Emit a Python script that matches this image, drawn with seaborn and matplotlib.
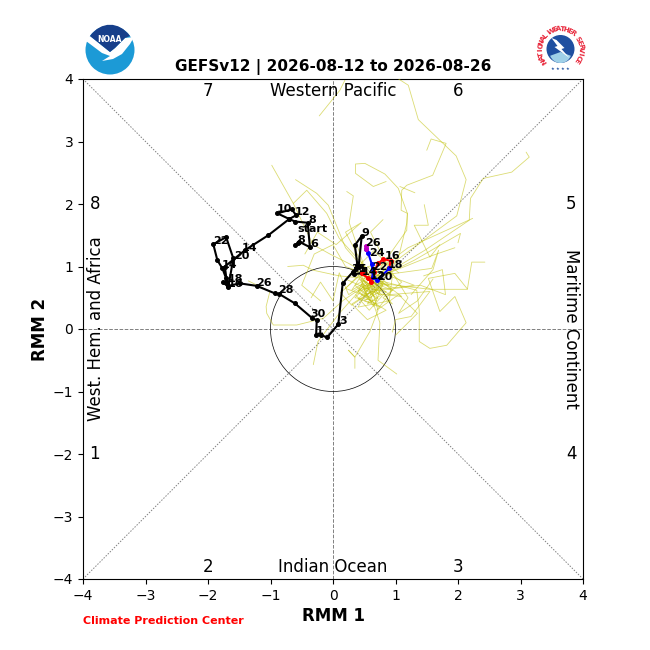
import numpy as np
import pandas as pd
import matplotlib
matplotlib.use("Agg")
import matplotlib.pyplot as plt
from matplotlib.patches import Circle, Polygon, PathPatch, Wedge
from matplotlib.path import Path
import seaborn as sns

# observed RMM path
obs_x = [-0.61, -0.56, -0.55, -0.37, -0.405, -0.61, -0.70, -0.89, -0.66, -0.59, -0.70, -1.035, -1.41, -1.73, -1.70, -1.76, -1.675,
         -1.595, -1.71, -1.915, -1.85, -1.77, -1.71, -1.675, -1.49, -1.22, -0.93, -0.86, -0.61, -0.34, -0.26, -0.27, -0.20, -0.09,
         0.085, 0.155, 0.325, 0.39, 0.35, 0.46, 0.41, 0.33, 0.46]
obs_y = [1.34, 1.37, 1.40, 1.31, 1.70, 1.72, 1.76, 1.85, 1.915, 1.82, 1.76, 1.50, 1.26, 1.00, 0.76, 0.75, 0.67,
         1.13, 1.47, 1.355, 1.10, 0.97, 0.81, 0.69, 0.73, 0.69, 0.57, 0.56, 0.41, 0.18, 0.14, -0.10, -0.10, -0.13,
         0.075, 0.73, 0.92, 1.02, 1.34, 1.49, 1.00, 0.88, 0.89]

# ensemble mean forecast, week 1 red, week 2 blue, then magenta
red_x = [0.46, 0.565, 0.61, 0.656, 0.725, 0.805, 0.92, 0.90]
red_y = [0.89, 0.81, 0.75, 0.92, 1.05, 1.12, 1.09, 0.97]
blue_x = [0.90, 0.71, 0.635, 0.62, 0.565, 0.53]
blue_y = [0.97, 0.78, 0.83, 1.04, 1.21, 1.28]
mag_x = [0.53, 0.52]
mag_y = [1.28, 1.33]

# ensemble members
members = [
    ([0.7, 1.10, 1.98, 2.13, 1.97, 1.365, 1.205, 1.05], [0.85, 1.16, 1.81, 2.39, 2.77, 3.35, 3.90, 4.0]),
    ([0.65, 1.05, 1.18, 1.19, 1.09, 1.10, 1.18, 1.595, 1.81, 1.57, 1.50], [0.8, 1.15, 1.69, 1.85, 1.90, 2.22, 2.30, 2.46, 2.97, 3.04, 2.86]),
    ([0.7, 1.47, 2.18, 2.20, 2.405, 2.86, 3.14, 3.09], [0.8, 1.26, 1.74, 2.09, 2.41, 2.51, 2.75, 2.83]),
    ([0.6, 1.2, 2.235], [0.85, 1.3, 1.77]),
    ([0.65, 1.3, 2.04, 2.0], [0.78, 1.1, 1.53, 1.38]),
    ([1.46, 1.525, 1.30, 1.55, 1.71], [1.99, 1.66, 1.66, 1.15, 1.35]),
    ([0.7, 1.18, 1.19, 1.045, 0.83, 0.51, 0.36, 0.36, 0.645, 0.85], [0.9, 1.58, 1.85, 2.25, 2.48, 2.65, 2.64, 2.49, 2.28, 2.36]),
    ([1.07, 1.31], [2.28, 2.18]),
    ([0.5, 0.5, 0.26, 0.325, 0.22], [0.85, 1.0, 1.70, 2.13, 2.20]),
    ([-0.22, 0.11, 0.19], [3.41, 3.82, 3.98]),
    ([0.6, 0.25, -0.05, -0.32, -0.635, -0.98], [0.85, 1.05, 1.2, 1.35, 2.01, 2.62]),
    ([0.55, 0.2, -0.075, -0.26, -0.60], [0.9, 1.3, 1.98, 2.17, 2.39]),
    ([0.6, 0.1, -0.10, -0.42, -0.635], [0.9, 1.45, 1.85, 2.22, 2.01]),
    ([0.6, 0.165, -0.155, -0.58, -0.955, -1.06, -1.07, -1.01, -1.355], [0.75, 0.46, 0.17, 0.064, 0.064, 0.25, 0.36, 0.60, 0.77]),
    ([0.6, 0.1, -0.315, -0.475, -0.725], [0.8, 0.85, 0.94, 1.02, 1.0]),
    ([0.6, 1.55, 2.15, 2.22, 2.43], [0.75, 0.635, 0.635, 1.07, 1.07]),
    ([0.65, 1.34, 1.38, 1.38, 1.55, 1.82, 2.13, 1.95, 1.71, 1.525, 1.95, 2.15], [0.8, 0.62, 0.30, -0.20, -0.31, -0.26, 0.10, 0.52, 0.28, 0.81, 0.89, 0.64]),
    ([0.7, 1.58, 1.69, 1.6, 1.25], [0.85, 0.97, 1.26, 0.95, 0.55]),
    ([0.6, 0.72, 0.59, 0.35, 0.245], [0.7, 0.3, -0.04, -0.45, -0.34]),
    ([0.55, 0.75, 0.72, 1.02], [0.7, 0.1, -0.50, -0.72]),
    ([0.5, 0.1, -0.24, -0.315], [0.7, 0.25, -0.20, -0.57]),
    ([0.35, 0.35, 0.25], [-0.63, -0.45, -0.34]),
    ([0.6, 1.0, 1.4, 1.8, 1.75, 1.45], [0.8, 0.65, 0.7, 0.55, 0.95, 0.85]),
    ([0.6, 0.95, 1.2, 1.05, 1.35, 1.6], [0.82, 0.9, 0.5, 0.25, 0.45, 0.8]),
    ([0.6, 0.9, 1.55, 1.25, 1.0, 0.95], [0.78, 0.55, 0.6, 0.2, 0.15, -0.05]),
    ([0.6, 0.2, 0.45, 0.05, -0.25, -0.45], [0.8, 1.55, 1.7, 1.35, 1.55, 1.2]),
    ([0.6, 0.2, 0.0, -0.3, -0.5, -0.2], [0.85, 1.0, 1.35, 1.2, 0.7, 0.45]),
    ([0.55, 0.25, 0.1, 0.0, -0.2, -0.35], [0.75, 0.55, 0.9, 0.45, 0.75, 0.5]),
    ([0.6, 0.4, 0.9, 0.95, 0.6, 0.8], [0.7, 0.35, 0.45, 0.85, 1.55, 1.75]),
    ([0.65, 0.45, 0.85, 0.55, 0.3, 0.7], [0.8, 0.55, 0.3, 0.15, 0.4, 0.65]),
    ([0.6, 0.75, 0.5, 0.75, 0.4, 0.55], [0.85, 0.6, 0.45, 0.35, 0.6, 0.72]),
    ([0.6, 0.85, 1.1, 0.8, 0.95, 0.65], [0.8, 0.95, 0.75, 0.5, 0.4, 0.75]),
    ([0.65, 0.35, 0.6, 0.2, 0.5, 0.8, 0.6], [0.85, 0.7, 0.5, 0.65, 0.95, 0.7, 0.55]),
    ([0.6, 0.9, 0.55, 1.0, 0.7, 1.3, 0.9], [0.72, 0.7, 1.0, 1.05, 0.62, 0.7, 0.85]),
    ([0.55, 0.4, 0.8, 0.45, 0.7, 0.35, 0.65], [0.9, 0.6, 0.75, 0.85, 0.45, 0.5, 0.8]),
    ([0.6, 0.3, 0.75, 0.2, 0.65, 1.05], [0.8, 0.95, 0.55, 0.8, 1.25, 0.9]),
    ([0.65, 1.15, 1.6, 1.95], [0.8, 1.0, 1.18, 1.30]),
    ([1.0, 1.35, 1.05, 0.7, 0.95, 0.55], [-0.10, 0.25, 0.55, 0.30, 0.62, 0.7]),
    ([0.6, 0.5, 0.7, 0.45, 0.62, 0.4, 0.6], [0.75, 0.55, 0.62, 0.72, 0.42, 0.48, 0.66]),
    ([0.62, 0.78, 0.55, 0.7, 0.42, 0.66], [0.72, 0.55, 0.4, 0.66, 0.8, 0.52]),
    ([0.6, 0.45, 0.55, 0.8, 0.65, 0.5], [0.7, 0.8, 0.5, 0.72, 0.36, 0.62]),
    ([0.58, 0.72, 0.48, 0.85, 0.58, 0.36], [0.78, 0.48, 0.66, 0.6, 0.3, 0.55]),
    ([0.6, 0.3, 0.48, 0.12, 0.3, 0.62], [0.8, 0.62, 0.9, 0.58, 0.38, 0.6]),
    ([0.6, 0.95, 0.7, 1.1, 0.72, 0.55], [0.76, 0.62, 0.82, 0.52, 0.56, 0.84]),
]

labels = ["start", "6", "8", "8", "10", "12", "14", "20", "14", "22", "18", "16", "26", "28", "30", "1", "3",
          "9", "26", "24", "16", "18", "22", "20", "31", "5", "14", "12"]
label_x = [-0.575, -0.37, -0.575, -0.40, -0.90, -0.61, -1.46, -1.58, -1.78, -1.92, -1.68, -1.68, -1.23, -0.88, -0.37, -0.27, 0.10,
           0.45, 0.51, 0.57, 0.82, 0.88, 0.62, 0.70, 0.29, 0.40, 0.46, 0.59]
label_y = [1.60, 1.36, 1.42, 1.745, 1.92, 1.87, 1.30, 1.17, 1.02, 1.41, 0.80, 0.72, 0.74, 0.62, 0.24, -0.03, 0.13,
           1.54, 1.38, 1.22, 1.17, 1.02, 0.99, 0.83, 0.96, 0.96, 0.91, 0.85]

ticks = [-4, -3, -2, -1, 0, 1, 2, 3, 4]

octants = ["7", "6", "8", "5", "1", "4", "2", "3"]
octant_x = [-2.0, 2.0, -3.81, 3.81, -3.81, 3.81, -2.0, 2.0]
octant_y = [3.8, 3.8, 2.0, 2.0, -2.0, -2.0, -3.8, -3.8]

sns.set_style("ticks")
plt.rcParams["text.color"] = "black"
plt.rcParams["axes.labelcolor"] = "black"
plt.rcParams["xtick.color"] = "black"
plt.rcParams["ytick.color"] = "black"
fig = plt.figure(figsize=(6.5, 6.5), dpi=100)
ax = fig.add_axes([83 / 650, 1 - 579 / 650, 500 / 650, 500 / 650])

for guide in ([-4, 4], [4, -4]):
    sns.lineplot(x=[-4, 4], y=guide, sort=False, estimator=None, color="gray", lw=0.7, ls=(0, (1.5, 1.5)), ax=ax, zorder=1)
sns.lineplot(x=[-4, 4], y=[0, 0], sort=False, estimator=None, color="gray", lw=0.7, ls="--", ax=ax, zorder=1)
sns.lineplot(x=[0, 0], y=[-4, 4], sort=False, estimator=None, color="gray", lw=0.7, ls="--", ax=ax, zorder=1)
ax.add_patch(Circle((0, 0), 1, fill=False, ec="black", lw=0.5, zorder=2))

for mx, my in members:
    df = pd.DataFrame({"rmm1": mx, "rmm2": my})
    sns.lineplot(data=df, x="rmm1", y="rmm2", sort=False, estimator=None, color="y", lw=0.6, alpha=0.55, ax=ax, zorder=3)

for px, py, col in ((obs_x, obs_y, "black"), (red_x, red_y, "red"), (blue_x, blue_y, "blue"), (mag_x, mag_y, "m")):
    sns.lineplot(x=px, y=py, sort=False, estimator=None, color=col, lw=1.5, marker="o", markersize=2.8,
                 markeredgecolor=col, ax=ax, zorder=5)

for lab, lx, ly in zip(labels, label_x, label_y):
    ax.text(lx, ly, lab, fontsize=8, fontweight="bold", ha="left", va="center", zorder=6)

for lab, lx, ly in zip(octants, octant_x, octant_y):
    ax.text(lx, ly, lab, fontsize=12, ha="center", va="center")
ax.text(0, 3.8, "Western Pacific", fontsize=12, ha="center", va="center")
ax.text(0, -3.8, "Indian Ocean", fontsize=12, ha="center", va="center")
ax.text(-3.79, 0, "West. Hem. and Africa", fontsize=12, rotation=90, ha="center", va="center")
ax.text(3.81, 0, "Maritime Continent", fontsize=12, rotation=-90, ha="center", va="center")

ax.set_xlim(-4, 4)
ax.set_ylim(-4, 4)
ax.set_xticks(ticks)
ax.set_yticks(ticks)
ax.tick_params(labelsize=10, length=3.5, width=0.8, direction="out", bottom=True, left=True)
for s in ax.spines.values():
    s.set_visible(True)
    s.set_color("black")
    s.set_linewidth(0.8)
ax.set_xlabel("RMM 1", fontsize=12, fontweight="bold", labelpad=3)
ax.set_ylabel("RMM 2", fontsize=12, fontweight="bold", labelpad=3)
ax.set_title("GEFSv12 | 2026-08-12 to 2026-08-26", fontsize=11, fontweight="bold", pad=6)
fig.text(83 / 650, 1 - 621 / 650, "Climate Prediction Center", color="red", fontsize=8, fontweight="bold", ha="left", va="center")

# NOAA logo
lg = fig.add_axes([80 / 650, 1 - 80 / 650, 60 / 650, 60 / 650])
lg.set_xlim(-30, 30)
lg.set_ylim(-30, 30)
lg.axis("off")
lg.add_patch(Circle((0, 0), 24.5, fc="#1c9ad6", ec="none"))
lg.add_patch(Polygon([(-25, 12), (-20, 14), (-5, 2), (0, -2), (5, 2), (15, 12), (24, 13),
                      (20, 6), (12, -4), (3, -9), (-8, -11), (0, -6), (-8, -3), (-24, 9)], fc="white", ec="none"))
lg.add_patch(PathPatch(Path([(-20, 14), (-9, 29), (9, 29), (20, 14), (15, 12), (5, 2), (0, -2), (-5, 2), (-20, 14)],
                            [1, 4, 4, 4, 2, 2, 2, 2, 2]), fc="#173f8a", ec="none"))
lg.text(0, 11, "NOAA", color="white", fontsize=5.5, fontweight="bold", ha="center", va="center")

# NWS logo
nw = fig.add_axes([530.5 / 650, 1 - 79 / 650, 60 / 650, 60 / 650])
nw.set_xlim(-30, 30)
nw.set_ylim(-30, 30)
nw.axis("off")
nw.add_patch(Circle((0, 0), 14, fc="#1f4fa0", ec="none"))
nw.add_patch(Wedge((0, -3), 11, 200, 340, fc="#9fd0e8", ec="none"))
nw.add_patch(Polygon([(-9, 11), (-3, 3), (-6, 2), (9, -9), (1, 0), (4, 1), (-4, 9)], fc="white", ec="none"))
ring = "NATIONAL WEATHER SERVICE"
angs = np.linspace(215, -35, len(ring))
for ch, an in zip(ring, angs):
    nw.text(20 * np.cos(np.radians(an)), 20 * np.sin(np.radians(an)), ch, color="#e8263a", fontsize=5,
            fontweight="bold", rotation=an - 90, ha="center", va="center")
nw.text(0, -20, "★ ★ ★ ★", color="#1f4fa0", fontsize=3, ha="center", va="center")

fig.savefig("out.png", dpi=100)
